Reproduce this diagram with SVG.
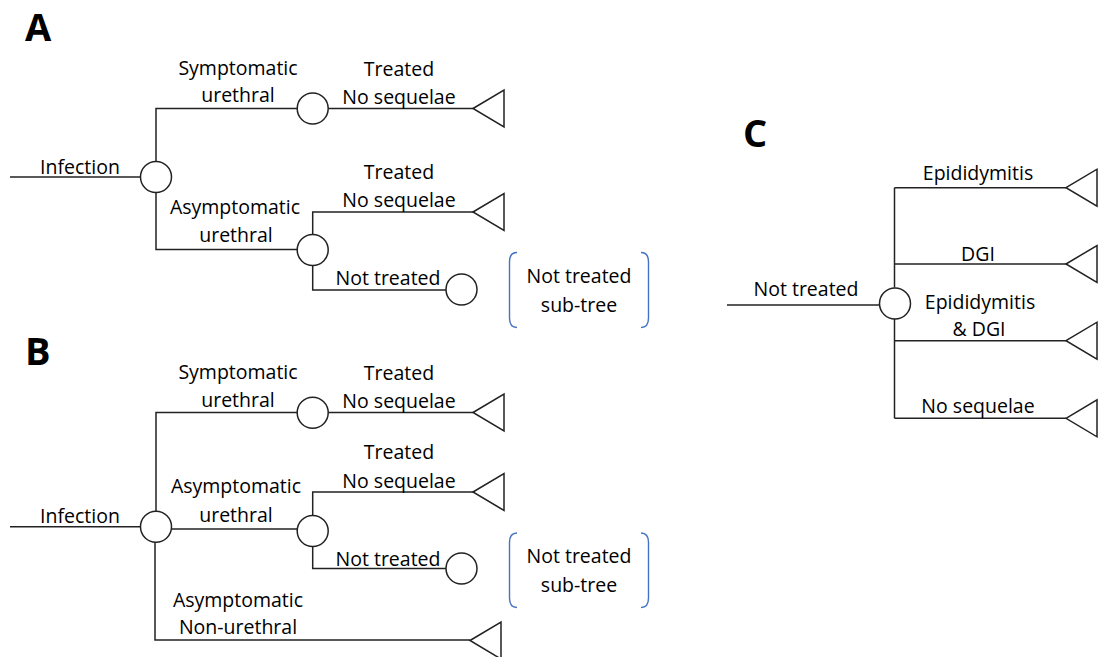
<svg xmlns="http://www.w3.org/2000/svg" width="1103" height="657" viewBox="0 0 1103 657">
<style>
.ln{fill:none;stroke:#222;stroke-width:1.5}
.ch{fill:#fff;stroke:#222;stroke-width:1.5}
.tr{fill:#fff;stroke:#222;stroke-width:1.5;stroke-linejoin:miter}
.br{fill:none;stroke:#4472C4;stroke-width:1.4}
text{font-family:"Open Sans","Liberation Sans",sans-serif;font-size:19.5px;fill:#000;text-anchor:middle}
.pl{font-size:38px;font-weight:bold;text-anchor:start}
</style>
<defs>
<polygon id="term" points="0,0 31,-18.5 31,18.5" class="tr"/>
<circle id="chance" r="15.5" class="ch"/>
</defs>
<rect width="1103" height="657" fill="#fff"/>

<!-- Panel A -->
<g id="panelA">
<text class="pl" x="25" y="41">A</text>
<g id="A-connectors">
<path class="ln" d="M10,177 H141"/>
<path class="ln" d="M156,161.5 V108.5 H297"/>
<path class="ln" d="M156,192.5 V249.5 H297"/>
<path class="ln" d="M328,108.5 H473"/>
<path class="ln" d="M312.7,234.5 V212 H473"/>
<path class="ln" d="M312.7,265.5 V290 H446"/>
</g>
<g id="A-root"><use href="#chance" x="156" y="177"/></g>
<g id="A-sym"><use href="#chance" x="312.7" y="108.5"/></g>
<g id="A-asym"><use href="#chance" x="312.7" y="250"/></g>
<g id="A-nt"><use href="#chance" x="461.5" y="289.5"/></g>
<g id="A-t1"><use href="#term" x="473" y="108.5"/></g>
<g id="A-t2"><use href="#term" x="473" y="212"/></g>
<g id="A-sub">
<path class="br" d="M517,252.5 Q509.5,252.5 509.5,262 V318 Q509.5,327.5 517,327.5"/>
<path class="br" d="M641,252.5 Q648.5,252.5 648.5,262 V318 Q648.5,327.5 641,327.5"/>
<text x="579" y="283">Not treated</text>
<text x="579" y="312">sub-tree</text>
</g>
<g id="A-labels">
<text x="80" y="174">Infection</text>
<text x="238" y="75">Symptomatic</text>
<text x="238" y="102">urethral</text>
<text x="399" y="76">Treated</text>
<text x="399" y="104">No sequelae</text>
<text x="235" y="214">Asymptomatic</text>
<text x="236" y="242">urethral</text>
<text x="399" y="179">Treated</text>
<text x="399" y="207">No sequelae</text>
<text x="388" y="285">Not treated</text>
</g>
</g>

<!-- Panel B -->
<g id="panelB">
<text class="pl" x="25" y="365">B</text>
<g id="B-connectors">
<path class="ln" d="M10,526.7 H141"/>
<path class="ln" d="M156,511 V412.5 H297"/>
<path class="ln" d="M171.5,529 H297"/>
<path class="ln" d="M155,542 V640 H470"/>
<path class="ln" d="M328,412.5 H473"/>
<path class="ln" d="M312.7,515.5 V492 H473"/>
<path class="ln" d="M312.7,546.5 V568.5 H446"/>
</g>
<g id="B-root"><use href="#chance" x="156" y="526.7"/></g>
<g id="B-sym"><use href="#chance" x="312.7" y="412.7"/></g>
<g id="B-asym"><use href="#chance" x="312.7" y="531"/></g>
<g id="B-nt"><use href="#chance" x="461.5" y="568.5"/></g>
<g id="B-t1"><use href="#term" x="473" y="412.5"/></g>
<g id="B-t2"><use href="#term" x="473" y="492"/></g>
<g id="B-t3"><use href="#term" x="470" y="640.5"/></g>
<g id="B-sub">
<path class="br" d="M517,533 Q509.5,533 509.5,542.5 V598 Q509.5,607.5 517,607.5"/>
<path class="br" d="M641,533 Q648.5,533 648.5,542.5 V598 Q648.5,607.5 641,607.5"/>
<text x="579" y="563">Not treated</text>
<text x="579" y="592">sub-tree</text>
</g>
<g id="B-labels">
<text x="80" y="523">Infection</text>
<text x="238" y="379">Symptomatic</text>
<text x="238" y="407">urethral</text>
<text x="399" y="380">Treated</text>
<text x="399" y="408">No sequelae</text>
<text x="236" y="493">Asymptomatic</text>
<text x="236" y="522">urethral</text>
<text x="399" y="459">Treated</text>
<text x="399" y="488">No sequelae</text>
<text x="388" y="566">Not treated</text>
<text x="238" y="607">Asymptomatic</text>
<text x="238" y="634">Non-urethral</text>
</g>
</g>

<!-- Panel C -->
<g id="panelC">
<text class="pl" x="743" y="147">C</text>
<g id="C-connectors">
<path class="ln" d="M727,305 H879"/>
<path class="ln" d="M894.5,187.7 V287.5"/>
<path class="ln" d="M894.5,319 V418.3"/>
<path class="ln" d="M894.5,187.7 H1066"/>
<path class="ln" d="M894.5,264 H1066"/>
<path class="ln" d="M894.5,340.7 H1066"/>
<path class="ln" d="M894.5,418.3 H1066"/>
</g>
<g id="C-root"><use href="#chance" x="895" y="303.5"/></g>
<g id="C-t1"><use href="#term" x="1066" y="187.7"/></g>
<g id="C-t2"><use href="#term" x="1066" y="264"/></g>
<g id="C-t3"><use href="#term" x="1066" y="340.7"/></g>
<g id="C-t4"><use href="#term" x="1066" y="418.3"/></g>
<g id="C-labels">
<text x="806" y="296">Not treated</text>
<text x="978" y="180">Epididymitis</text>
<text x="978" y="261">DGI</text>
<text x="980" y="309">Epididymitis</text>
<text x="979" y="336">&amp; DGI</text>
<text x="978" y="413">No sequelae</text>
</g>
</g>
</svg>
